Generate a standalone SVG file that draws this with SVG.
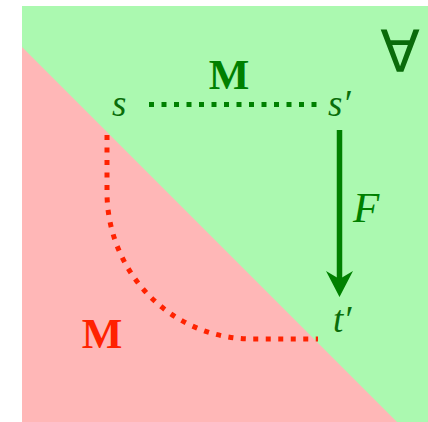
<svg xmlns="http://www.w3.org/2000/svg" width="428" height="422" viewBox="0 0 428 422">
  <style>
    .math { font-family: "Liberation Serif", "DejaVu Serif", serif; font-style: italic; }
    .bold { font-family: "Liberation Serif", "DejaVu Serif", serif; font-weight: bold; text-anchor: middle; }
    .dots { fill: none; stroke-width: 5; stroke-dasharray: 5 7.5; }
  </style>
  <g id="background">
    <rect x="22" y="6" width="406" height="416" fill="#abf9b0"/>
    <polygon points="22,47 397,422 22,422" fill="#ffb7b7"/>
  </g>
  <g id="connectors">
    <line class="dots" x1="149" y1="104.5" x2="318" y2="104.5" stroke="#008000"/>
    <path class="dots" d="M107,135 V192 A145,147 0 0 0 252,339 H318" stroke="#ff2200"/>
    <line x1="339.5" y1="130" x2="339.5" y2="282" stroke="#008000" stroke-width="5.5"/>
    <polygon points="326,271 339.5,297 353,271 339.5,279" fill="#008000"/>
  </g>
  <g id="node-s"><text class="math" x="112" y="116" font-size="37" fill="#0a6e0a">s</text></g>
  <g id="node-s-prime"><text class="math" x="328" y="116" font-size="37" fill="#0a6e0a">s′</text></g>
  <g id="node-t-prime"><text class="math" x="333" y="332" font-size="37" fill="#0a6e0a">t′</text></g>
  <g id="label-F"><text class="math" x="353" y="222" font-size="43" fill="#008000">F</text></g>
  <g id="label-M-green"><text class="bold" x="229" y="89" font-size="43" fill="#008000">M</text></g>
  <g id="label-M-red"><text class="bold" x="102" y="348" font-size="43" fill="#ff2200">M</text></g>
  <g id="label-forall"><text x="400" y="72" font-family="DejaVu Sans, sans-serif" font-size="58" text-anchor="middle" fill="#0a6a0a">∀</text></g>
</svg>
